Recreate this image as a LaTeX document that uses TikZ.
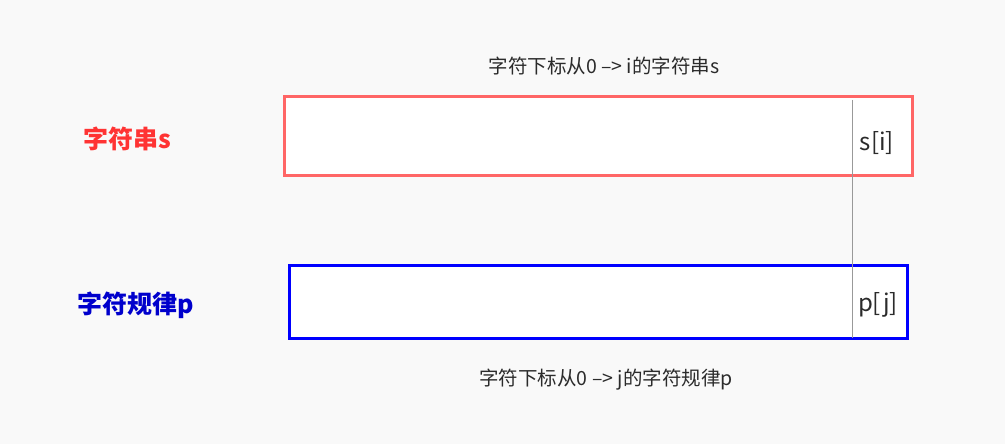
\documentclass[tikz,border=0pt]{standalone}
\usepackage{fontspec}
\setmainfont{Noto Sans CJK SC}
\definecolor{bg}{HTML}{F9F9F9}
\definecolor{redbox}{HTML}{FF6666}
\definecolor{redtxt}{HTML}{FF3333}
\definecolor{bluebox}{HTML}{0000FF}
\definecolor{bluetxt}{HTML}{0000CC}
\definecolor{txt}{HTML}{2B2B2B}
\definecolor{sep}{HTML}{999999}
\begin{document}
\begin{tikzpicture}[x=1pt,y=-1pt,
  captxt/.style={text=txt,font=\fontsize{19.5}{22}\selectfont,inner sep=0pt},
  idx/.style={text=txt,font=\fontsize{24}{27}\selectfont,inner sep=0pt},
  lab/.style={font=\fontsize{25}{28}\selectfont\bfseries,inner sep=0pt}]
\fill[bg] (0,0) rectangle (1005,444);
\useasboundingbox (0,0) rectangle (1005,444);
\node[draw=redbox,line width=3pt,fill=white,minimum width=628pt,minimum height=78pt,inner sep=0pt] (sbox) at (598,136) {};
\node[draw=bluebox,line width=3pt,fill=white,minimum width=618pt,minimum height=73pt,inner sep=0pt] (pbox) at (598,301.5) {};
\coordinate (ltop) at (852,100);
\coordinate (lbot) at (852,338);
\draw[sep,line width=1pt] (ltop) -- (lbot);
\node[captxt] (tcap) at (604,66) {字符下标从0 –> i的字符串s};
\node[captxt] (bcap) at (606,380) {字符下标从0 –> j的字符规律p};
\node[idx] (si) at (877,143) {s[i]};
\node[idx] (pj) at (878,305) {p[j]};
\node[lab,text=redtxt] (sl) at (127,139) {字符串s};
\node[lab,text=bluetxt] (pl) at (136,305) {字符规律p};
\end{tikzpicture}
\end{document}
